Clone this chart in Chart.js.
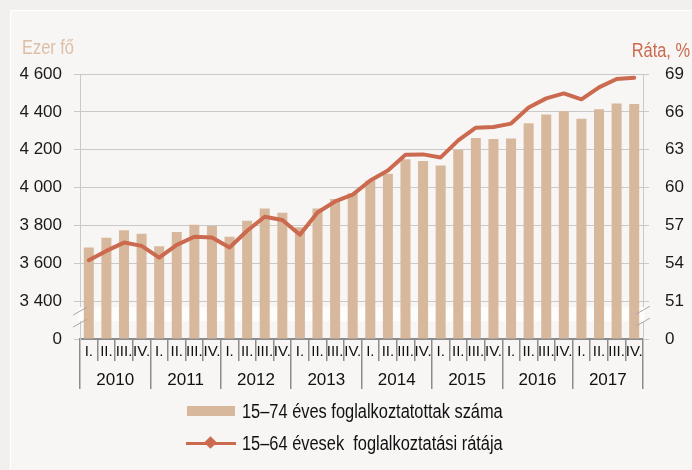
<!DOCTYPE html>
<html>
<head>
<meta charset="utf-8">
<script src="https://cdn.jsdelivr.net/npm/chart.js@4"></script>
<style>
  html, body { margin:0; padding:0; width:692px; height:470px; overflow:hidden; background:#f1f0ee; font-family:"Liberation Sans", Arial, sans-serif; }
  #panel { position:absolute; left:10px; top:10px; width:700px; height:480px; background:#f7f6f4; border-left:1px solid #fff; border-top:1px solid #fff; }
  #wrap { position:absolute; left:0; top:0; width:692px; height:470px; }
  .leg { position:absolute; left:186px; font-size:20px; color:#111; height:22px; line-height:22px; }
  .leg .txt { position:absolute; left:56px; top:0; white-space:nowrap; transform:scaleX(0.82); transform-origin:0 50%; }
  .sw { position:absolute; left:1px; top:6px; width:48px; height:10px; background:#d8b89d; }
  .ln { position:absolute; left:0; top:9.5px; width:50px; height:3px; background:#cc6a4f; }
  .dm { position:absolute; left:20px; top:6px; width:9px; height:9px; background:#cc6a4f; transform:rotate(45deg); }
</style>
</head>
<body>
<div id="panel"></div>
<div id="wrap"><canvas id="c" width="692" height="470"></canvas></div>
<div class="leg" style="top:400px"><div class="sw"></div><span class="txt">15–74 éves foglalkoztatottak száma</span></div>
<div class="leg" style="top:432px"><div class="ln"></div><div class="dm"></div><span class="txt">15–64 évesek&nbsp; foglalkoztatási rátája</span></div>
<script>
const quarterNames = ['I.', 'II.', 'III.', 'IV.'];
const years = ['2010', '2011', '2012', '2013', '2014', '2015', '2016', '2017'];
const quarterLabels = [
  'I.','II.','III.','IV.','I.','II.','III.','IV.','I.','II.','III.','IV.','I.','II.','III.','IV.',
  'I.','II.','III.','IV.','I.','II.','III.','IV.','I.','II.','III.','IV.','I.','II.','III.','IV.'
];
const employed = [
  3683, 3735, 3775, 3756,
  3690, 3765, 3803, 3797,
  3740, 3825, 3889, 3867,
  3790, 3890, 3940, 3970,
  4037, 4073, 4149, 4140,
  4117, 4200, 4262, 4257,
  4259, 4340, 4386, 4405,
  4363, 4414, 4444, 4442
];
const rate = [
  54.24, 54.98, 55.64, 55.38,
  54.45, 55.46, 56.10, 56.04,
  55.25, 56.58, 57.69, 57.43,
  56.26, 58.03, 58.90, 59.44,
  60.56, 61.35, 62.60, 62.63,
  62.39, 63.74, 64.75, 64.80,
  65.07, 66.35, 67.07, 67.46,
  66.99, 67.94, 68.60, 68.70
];
const leftTicks = [3200, 3400, 3600, 3800, 4000, 4200, 4400, 4600];
const rightTicks = [48, 51, 54, 57, 60, 63, 66, 69];
const leftBreakValue = 3200;
const rightBreakValue = 48;

const FONT = '"Liberation Sans", Arial, sans-serif';
const BAR = '#d8b89d';
const LINE = '#cc6a4f';
const GRID = '#c9c9c9';
const SEP = '#8c8c8c';

function fmtThousands(v) {
  return String(v).replace(/\B(?=(\d{3})+(?!\d))/g, ' ');
}

const extras = {
  id: 'extras',
  beforeDatasetsDraw(chart) {
    const ctx = chart.ctx, a = chart.chartArea;
    const y = chart.scales.y;
    const yTop = y.getPixelForValue(3400) + 6;
    ctx.save();
    ctx.fillStyle = '#fdfdfc';
    ctx.fillRect(a.left - 1.5, yTop, a.right - a.left + 3, 14);
    ctx.restore();
  },
  afterDraw(chart) {
    const ctx = chart.ctx, a = chart.chartArea;
    const y = chart.scales.y;
    const yb = y.getPixelForValue(3400) + 6;
    ctx.save();
    ctx.strokeStyle = '#a8a8a8';
    ctx.lineWidth = 1;
    [[a.left, yb + 1], [a.right, yb]].forEach(([x, yy]) => {
      for (const off of [0, 12]) {
        ctx.beginPath();
        ctx.moveTo(x - 7, yy + 7 + off);
        ctx.lineTo(x + 7, yy - 1 + off);
        ctx.stroke();
      }
    });
    ctx.font = '20px ' + FONT;
    ctx.textBaseline = 'alphabetic';
    ctx.save();
    ctx.translate(22, 54);
    ctx.scale(0.82, 1);
    ctx.fillStyle = '#ddbea6';
    ctx.textAlign = 'left';
    ctx.fillText('Ezer fő', 0, 0);
    ctx.restore();
    ctx.save();
    ctx.translate(690, 57);
    ctx.scale(0.82, 1);
    ctx.fillStyle = LINE;
    ctx.textAlign = 'right';
    ctx.fillText('Ráta, %', 0, 0);
    ctx.restore();
    ctx.restore();
  }
};

new Chart(document.getElementById('c'), {
  data: {
    labels: quarterLabels,
    datasets: [
      {
        type: 'line', label: '15–64 évesek  foglalkoztatási rátája', data: rate, yAxisID: 'y1', xAxisID: 'x',
        borderColor: LINE, backgroundColor: LINE, borderWidth: 4, pointRadius: 0, tension: 0, order: 0,
        borderJoinStyle: 'round', borderCapStyle: 'round'
      },
      {
        type: 'bar', label: '15–74 éves foglalkoztatottak száma', data: employed, yAxisID: 'y', xAxisID: 'x',
        backgroundColor: BAR, barPercentage: 0.57, categoryPercentage: 1, order: 1,
        base: leftBreakValue
      }
    ]
  },
  options: {
    responsive: false,
    animation: false,
    layout: { padding: { left: 20, right: 0, top: 74, bottom: 81 } },
    plugins: { legend: { display: false }, tooltip: { enabled: false } },
    scales: {
      x: {
        type: 'category', position: 'bottom', offset: true,
        grid: { offset: true, drawOnChartArea: false, tickLength: 22, color: SEP, lineWidth: 1.5 },
        border: { display: true, color: SEP, width: 2 },
        ticks: { font: { size: 15, family: FONT }, color: '#111', padding: -18, maxRotation: 0, autoSkip: false },
        afterFit(s) { s.height = 22; }
      },
      x2: {
        type: 'category', position: 'bottom', offset: true, labels: years,
        grid: { offset: true, drawOnChartArea: false, tickLength: 28, color: SEP, lineWidth: 1.5 },
        border: { display: false },
        ticks: { font: { size: 17, family: FONT }, color: '#111', padding: -19.2, maxRotation: 0, autoSkip: false },
        afterFit(s) { s.height = 28; }
      },
      y: {
        type: 'linear', position: 'left', min: 3200, max: 4600,
        afterBuildTicks(s) { s.ticks = leftTicks.map(v => ({ value: v })); },
        grid: { color: GRID, lineWidth: 1, tickLength: 6 },
        border: { display: true, color: GRID, width: 1 },
        ticks: { font: { size: 17, family: FONT }, color: '#1a1a1a', padding: 12,
          callback: v => v === leftBreakValue ? '0' : fmtThousands(v) },
        afterFit(s) { s.width = 60; }
      },
      y1: {
        type: 'linear', position: 'right', min: 48, max: 69,
        afterBuildTicks(s) { s.ticks = rightTicks.map(v => ({ value: v })); },
        grid: { drawOnChartArea: false, color: GRID, lineWidth: 1, tickLength: 6 },
        border: { display: true, color: GRID, width: 1 },
        ticks: { font: { size: 17, family: FONT }, color: '#1a1a1a', padding: 16,
          callback: v => v === rightBreakValue ? '0' : String(v) },
        afterFit(s) { s.width = 49; }
      }
    }
  },
  plugins: [extras]
});
</script>
</body>
</html>
